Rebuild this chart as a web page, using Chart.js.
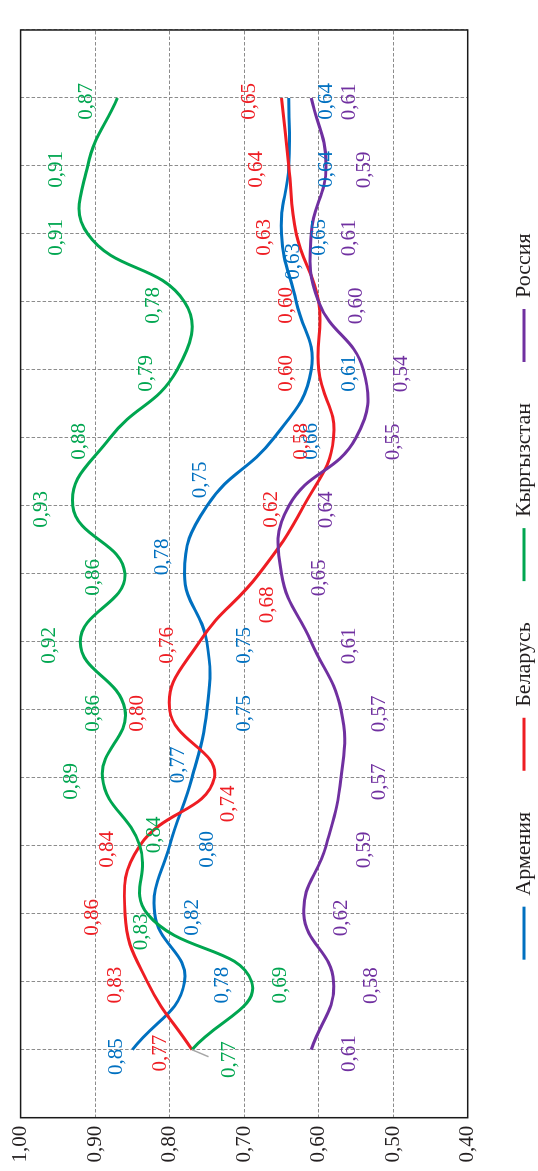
<!DOCTYPE html>
<html>
<head>
<meta charset="utf-8">
<script src="https://cdn.jsdelivr.net/npm/chart.js@4.4.1/dist/chart.umd.min.js"></script>
<style>
html, body { margin: 0; padding: 0; width: 538px; height: 1171px; overflow: hidden; background: #fff; }
/* chart is drawn landscape and turned a quarter to the left */
#wrap { position: absolute; left: 0; top: 0; width: 1171px; height: 545px;
        transform-origin: 0 0; transform: translate(0, 1171px) rotate(-90deg); }
</style>
</head>
<body>
<div id="wrap"><canvas id="chart" width="1171" height="545"></canvas></div>
<script>
const years = [2005, 2006, 2007, 2008, 2009, 2010, 2011, 2012, 2013, 2014, 2015, 2016, 2017, 2018, 2019];
const countries = ['Армения', 'Беларусь', 'Кыргызстан', 'Россия'];
const armenia    = [0.85, 0.78, 0.82, 0.80, 0.77, 0.75, 0.75, 0.78, 0.75, 0.66, 0.61, 0.63, 0.65, 0.64, 0.64];
const belarus    = [0.77, 0.83, 0.86, 0.84, 0.74, 0.80, 0.76, 0.68, 0.62, 0.58, 0.60, 0.60, 0.63, 0.64, 0.65];
const kyrgyzstan = [0.77, 0.69, 0.83, 0.84, 0.89, 0.86, 0.92, 0.86, 0.93, 0.88, 0.79, 0.78, 0.91, 0.91, 0.87];
const russia     = [0.61, 0.58, 0.62, 0.59, 0.57, 0.57, 0.61, 0.65, 0.64, 0.55, 0.54, 0.60, 0.61, 0.59, 0.61];
const series = [armenia, belarus, kyrgyzstan, russia];
const colors = ['#0070c0', '#ee1d23', '#00a650', '#7030a0'];

// where each value label sits relative to its point (canvas px, before the turn)
const labelOffset = [[-3.5, 38], [-3.5, -32], [-3.5, -31], [-4, 38]];
const labelMoves = [
    { 0: [-7, -16], 4: [13, -14], 7: [17, -22], 8: [26, -6], 11: [40.5, -3] },
    { 4: [-26, 14], 7: [-31, 8] },
    { 0: [-10, 37], 1: [-3.5, 29], 2: [-18, -6], 3: [11, 15] },
    {}
];
// short grey leader from a point towards its moved label
const leaders = [{ ds: 2, i: 0, to: [-7, 16.5] }];

const SERIF = '"Liberation Serif", "Times New Roman", serif';
const fmt = v => v.toFixed(2).replace('.', ',');

const frame = {
    id: 'frame',
    afterDatasetsDraw(chart) {
        const { ctx, chartArea: a } = chart;
        ctx.save();
        ctx.strokeStyle = '#1a1a1a';
        ctx.lineWidth = 1.5;
        ctx.strokeRect(a.left, a.top, a.right - a.left, a.bottom - a.top);
        ctx.restore();
    }
};

const valueLabels = {
    id: 'valueLabels',
    afterDatasetsDraw(chart) {
        const ctx = chart.ctx;
        ctx.save();
        ctx.strokeStyle = '#a6a6a6';
        ctx.lineWidth = 1.5;
        leaders.forEach(l => {
            const pt = chart.getDatasetMeta(l.ds).data[l.i];
            ctx.beginPath();
            ctx.moveTo(pt.x, pt.y);
            ctx.lineTo(pt.x + l.to[0], pt.y + l.to[1]);
            ctx.stroke();
        });
        ctx.font = '21px ' + SERIF;
        ctx.textAlign = 'center';
        ctx.textBaseline = 'middle';
        chart.data.datasets.forEach((ds, di) => {
            chart.getDatasetMeta(di).data.forEach((pt, i) => {
                const off = labelMoves[di][i] || labelOffset[di];
                ctx.fillStyle = colors[di];
                ctx.fillText(fmt(ds.data[i].y), pt.x + off[0], pt.y + off[1]);
            });
        });
        ctx.restore();
    }
};

new Chart(document.getElementById('chart'), {
    type: 'line',
    data: {
        datasets: countries.map((name, di) => ({
            label: name,
            data: years.map((yr, i) => ({ x: yr, y: series[di][i] })),
            borderColor: colors[di],
            backgroundColor: colors[di],
            borderWidth: 3,
            pointRadius: 0,
            tension: 0.45,
            order: countries.length - di
        }))
    },
    options: {
        responsive: false,
        animation: false,
        devicePixelRatio: 1,
        layout: { padding: { left: 6, right: 28, top: 17, bottom: 0 } },
        scales: {
            x: {
                type: 'linear', min: 2004, max: 2020,
                afterFit: s => { s.height = 4.3; },
                ticks: { stepSize: 1, padding: 9, maxRotation: 0, autoSkip: false,
                         color: '#231f20', font: { family: SERIF, size: 21 },
                         callback: v => String(v) },
                grid: { color: '#8c8c8c', lineWidth: 1, drawTicks: false },
                border: { display: false, dash: [3.5, 2] }
            },
            y: {
                min: 0.4, max: 1.0,
                afterFit: s => { s.width = 47.3; },
                ticks: { stepSize: 0.1, padding: 8, color: '#231f20',
                         font: { family: SERIF, size: 21 }, callback: v => fmt(v) },
                grid: { color: '#8c8c8c', lineWidth: 1, drawTicks: false },
                border: { display: false, dash: [3.5, 2] }
            }
        },
        plugins: {
            tooltip: { enabled: false },
            legend: {
                position: 'bottom',
                labels: {
                    boxWidth: 53, boxHeight: 3, padding: 41, color: '#231f20',
                    font: { family: SERIF, size: 22 },
                    sort: (a, b) => a.datasetIndex - b.datasetIndex,
                    generateLabels: chart => Chart.defaults.plugins.legend.labels.generateLabels(chart)
                        .map(it => Object.assign(it, { lineWidth: 0, fillStyle: colors[it.datasetIndex] }))
                }
            }
        }
    },
    plugins: [frame, valueLabels]
});
</script>
</body>
</html>
